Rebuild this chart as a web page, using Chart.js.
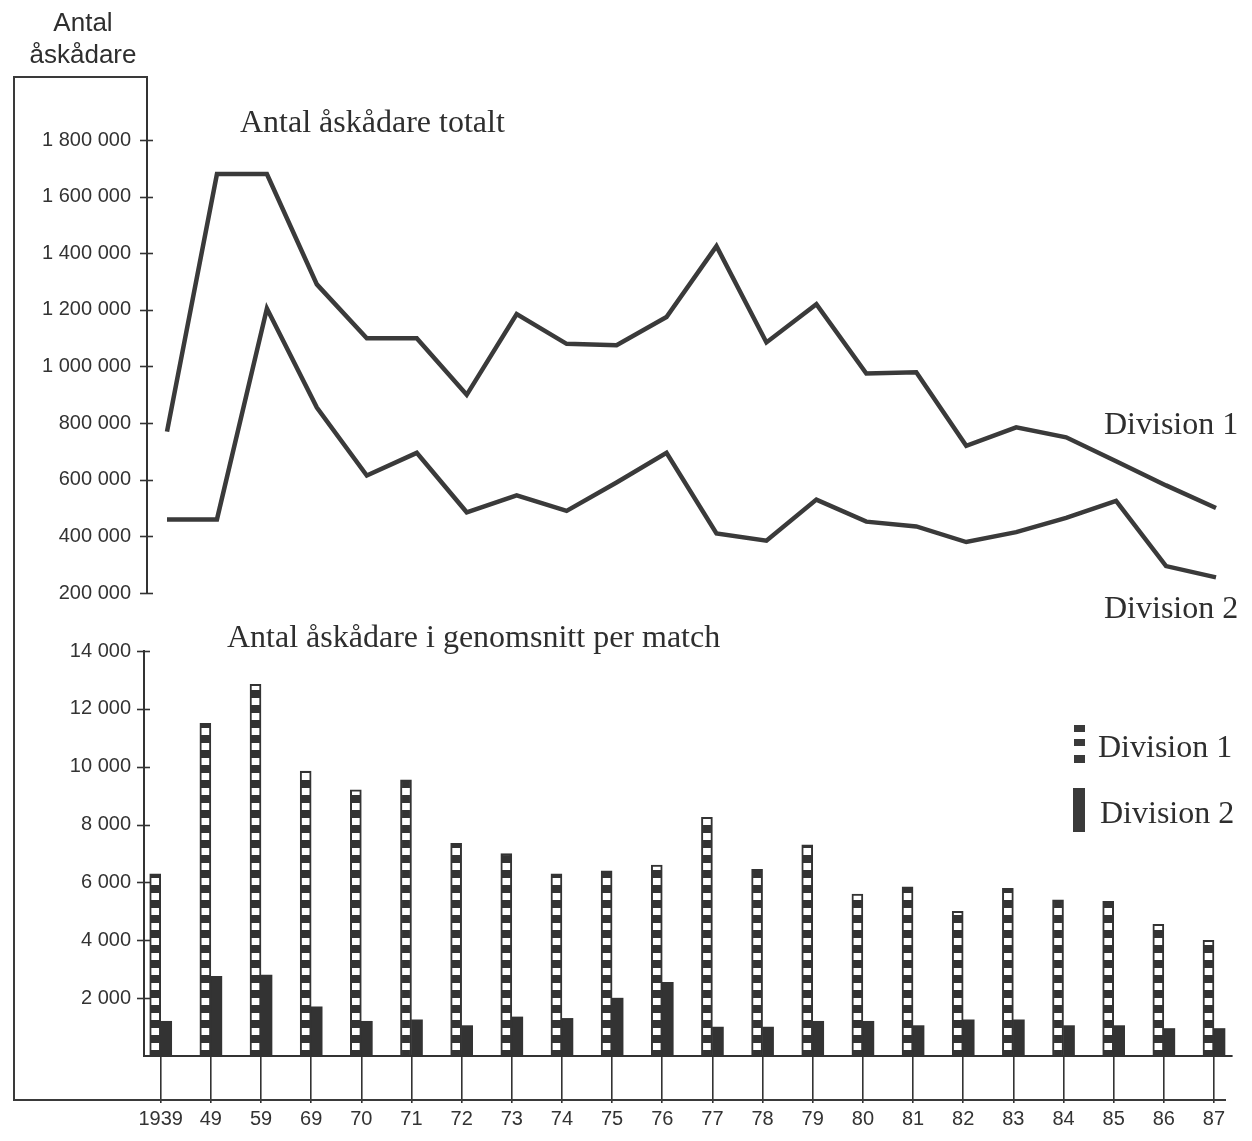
<!DOCTYPE html>
<html>
<head>
<meta charset="utf-8">
<script src="https://cdn.jsdelivr.net/npm/chart.js@4.4.1/dist/chart.umd.min.js"></script>
<style>
html,body{margin:0;padding:0;background:#fff;}
#wrap{position:relative;width:1252px;height:1141px;overflow:hidden;background:#fff;}
canvas{position:absolute;left:0;top:0;}
.t{position:absolute;white-space:nowrap;color:#2e2e2e;}
.sans{font-family:"Liberation Sans",Arial,sans-serif;}
.serif{font-family:"Liberation Serif","Times New Roman",serif;}
.ln{position:absolute;background:#3a3a3a;}
</style>
</head>
<body>
<div id="wrap">
  <canvas id="c1" width="1252" height="1141" style="width:1252px;height:1141px"></canvas>
  <canvas id="c2" width="1252" height="1141" style="width:1252px;height:1141px"></canvas>

  <div class="ln" style="left:13px;top:76px;width:2px;height:1025px"></div>
  <div class="ln" style="left:13px;top:76px;width:135px;height:2px"></div>
  <div class="ln" style="left:13px;top:1099px;width:1213px;height:2px"></div>

  <div class="t sans" style="left:3px;width:160px;text-align:center;top:9px;font-size:26px;line-height:26px">Antal</div>
  <div class="t sans" style="left:3px;width:160px;text-align:center;top:41px;font-size:26px;line-height:26px">åskådare</div>

  <div class="t serif" style="left:240px;top:105px;font-size:32px;line-height:32px">Antal åskådare totalt</div>
  <div class="t serif" style="left:227px;top:620px;font-size:32px;line-height:32px">Antal åskådare i genomsnitt per match</div>

  <div class="t serif" style="left:1104px;top:407px;font-size:32px;line-height:32px">Division 1</div>
  <div class="t serif" style="left:1104px;top:591px;font-size:32px;line-height:32px">Division 2</div>

  <div class="ln" style="left:1074px;top:725px;width:11px;height:7px"></div>
  <div class="ln" style="left:1074px;top:739px;width:11px;height:7px"></div>
  <div class="ln" style="left:1074px;top:755px;width:11px;height:8px"></div>
  <div class="t serif" style="left:1098px;top:730px;font-size:32px;line-height:32px">Division 1</div>

  <div class="ln" style="left:1073px;top:788px;width:12px;height:44px"></div>
  <div class="t serif" style="left:1100px;top:796px;font-size:32px;line-height:32px">Division 2</div>
</div>

<script>
// ---- data ----
const years = ['1939','49','59','69','70','71','72','73','74','75','76','77','78','79','80','81','82','83','84','85','86','87'];

const totalDiv1 = [770000,1680000,1680000,1290000,1100000,1100000,900000,1185000,1080000,1075000,1175000,1425000,1085000,1220000,975000,980000,720000,785000,750000,665000,580000,500000];
const totalDiv2 = [460000,460000,1205000,855000,615000,695000,485000,545000,490000,590000,695000,410000,385000,530000,452000,435000,380000,415000,465000,525000,295000,255000];

const avgDiv1 = [6300,11500,12850,9850,9200,9550,7350,7000,6300,6400,6600,8250,6450,7300,5600,5850,5000,5800,5400,5350,4550,4000];
const avgDiv2 = [1200,2750,2800,1700,1200,1250,1050,1350,1300,2000,2550,1000,1000,1200,1200,1050,1250,1250,1050,1050,950,950];

const totalTicks = [200000,400000,600000,800000,1000000,1200000,1400000,1600000,1800000];
const avgTicks = [2000,4000,6000,8000,10000,12000,14000];

// ---- helpers ----
const INK = '#333333';
const fmt = v => String(v).replace(/\B(?=(\d{3})+(?!\d))/g, ' ');
const sansFont = {family:'"Liberation Sans", Arial, sans-serif', size:20};

const crossTicks = {
  id:'crossTicks',
  afterDraw(chart){
    const s = chart.scales.y; const ctx = chart.ctx;
    ctx.save(); ctx.strokeStyle = INK; ctx.lineWidth = 1.6;
    s.ticks.forEach((t,i)=>{
      const y = Math.round(s.getPixelForTick(i)) + 0.5;
      ctx.beginPath(); ctx.moveTo(s.right - 7, y); ctx.lineTo(s.right + 6, y); ctx.stroke();
    });
    ctx.restore();
  }
};

// ---- top: totals (line) ----
new Chart(document.getElementById('c1'), {
  type:'line',
  data:{
    datasets:[
      {label:'Division 1', data: totalDiv1.map((v,i)=>({x:i,y:v})), borderColor:'#3a3a3a', borderWidth:4.5, pointRadius:0, tension:0, borderJoinStyle:'miter', fill:false},
      {label:'Division 2', data: totalDiv2.map((v,i)=>({x:i,y:v})), borderColor:'#3a3a3a', borderWidth:4.5, pointRadius:0, tension:0, borderJoinStyle:'miter', fill:false}
    ]
  },
  options:{
    responsive:false, animation:false, devicePixelRatio:1,
    layout:{padding:{left:0, top:77, right:12, bottom:548}},
    plugins:{legend:{display:false}, tooltip:{enabled:false}},
    scales:{
      x:{type:'linear', display:false, min:-0.4004, max:21.4805},
      y:{
        min:200000, max:2022500,
        afterFit(s){ s.width = 147; },
        afterBuildTicks(s){ s.ticks = totalTicks.map(v=>({value:v})); },
        grid:{display:false, drawTicks:false},
        border:{display:true, color:INK, width:2},
        ticks:{color:INK, font:sansFont, padding:16, callback:v=>fmt(v)}
      }
    }
  },
  plugins:[crossTicks]
});

// ---- bottom: averages (bars) ----
const c2 = document.getElementById('c2');
const tile = document.createElement('canvas'); tile.width = 4; tile.height = 15;
const tg = tile.getContext('2d');
tg.fillStyle = INK; tg.fillRect(0,0,4,15);
tg.fillStyle = '#ffffff'; tg.fillRect(0,8,4,7);
const stripe = c2.getContext('2d').createPattern(tile,'repeat');

new Chart(c2, {
  type:'bar',
  data:{
    datasets:[
      {label:'Division 1', data: avgDiv1.map((v,i)=>({x:i,y:v})), backgroundColor:stripe, borderColor:INK, borderWidth:2, barThickness:11},
      {label:'Division 2', data: avgDiv2.map((v,i)=>({x:i,y:v})), backgroundColor:INK, borderWidth:0, barThickness:11}
    ]
  },
  options:{
    responsive:false, animation:false, devicePixelRatio:1,
    layout:{padding:{left:0, top:651, right:20, bottom:0}},
    plugins:{legend:{display:false}, tooltip:{enabled:false}},
    scales:{
      x:{
        type:'linear', min:-0.333, max:21.359, offset:false,
        afterFit(s){ s.height = 85; },
        afterBuildTicks(s){ s.ticks = years.map((_,i)=>({value:i})); },
        grid:{display:true, offset:false, drawOnChartArea:false, drawTicks:true, tickLength:47, color:INK, lineWidth:1.6},
        border:{display:true, color:INK, width:2},
        ticks:{color:INK, font:sansFont, padding:4, autoSkip:false, maxRotation:0, callback:v=>years[v]}
      },
      y:{
        min:0, max:14000,
        afterFit(s){ s.width = 144; },
        afterBuildTicks(s){ s.ticks = avgTicks.map(v=>({value:v})); },
        grid:{display:false, drawTicks:false},
        border:{display:true, color:INK, width:2},
        ticks:{color:INK, font:sansFont, padding:13, callback:v=>fmt(v)}
      }
    }
  },
  plugins:[crossTicks]
});
</script>
</body>
</html>
